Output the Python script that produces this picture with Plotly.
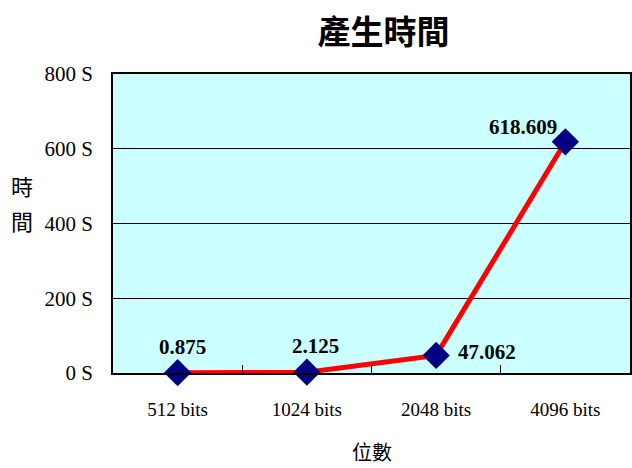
import plotly.graph_objects as go

categories = ["512 bits", "1024 bits", "2048 bits", "4096 bits"]
values = [0.875, 2.125, 47.062, 618.609]
labels = ["0.875", "2.125", "47.062", "618.609"]
y_ticks = [0, 200, 400, 600, 800]
y_tick_text = ["0 S", "200 S", "400 S", "600 S", "800 S"]

# label offsets in pixels relative to each point (style only)
label_shift = [(5, 26), (9, 26), (51, 3), (-42, 15)]

serif = "Liberation Serif"
cjk = "Noto Sans CJK TC"

fig = go.Figure()
fig.add_trace(go.Scatter(
    x=categories, y=values, mode="lines+markers",
    line=dict(color="#FF0000", width=5),
    marker=dict(symbol="diamond", size=21, color="#000080"),
    cliponaxis=False, showlegend=False,
))

anns = []
for c, v, t, (dx, dy) in zip(categories, values, labels, label_shift):
    anns.append(dict(x=c, y=v, text="<b>%s</b>" % t, showarrow=False,
                     xshift=dx, yshift=dy, xanchor="center", yanchor="middle",
                     font=dict(family=serif, size=21, color="black")))

pw, ph = 632 - 113, 468 - 74 - 95
anns.append(dict(text="時", x=(22 - 113) / pw, y=(373 - 185) / ph, xref="paper", yref="paper",
                 showarrow=False, xanchor="center", yanchor="middle",
                 font=dict(family=cjk, size=22, color="black")))
anns.append(dict(text="間", x=(22 - 113) / pw, y=(373 - 220) / ph, xref="paper", yref="paper",
                 showarrow=False, xanchor="center", yanchor="middle",
                 font=dict(family=cjk, size=22, color="black")))
anns.append(dict(text="位數", x=(373 - 113) / pw, y=(373 - 451) / ph, xref="paper", yref="paper",
                 showarrow=False, xanchor="center", yanchor="middle",
                 font=dict(family=cjk, size=20, color="black")))

fig.update_layout(
    width=632, height=468,
    margin=dict(l=113, r=0, t=74, b=95),
    paper_bgcolor="white", plot_bgcolor="#CCFFFF",
    title=dict(text="<b>產生時間</b>", x=0.607, xanchor="center", y=0.93, yanchor="middle",
               font=dict(family=cjk, size=33, color="black")),
    xaxis=dict(type="category", range=[-0.5, 3.5], showgrid=False,
               showline=True, linecolor="black", linewidth=1.5, mirror=True,
               ticks="inside", tickson="boundaries", ticklen=8, tickcolor="black",
               ticklabelstandoff=18,
               tickfont=dict(family=serif, size=19, color="black")),
    yaxis=dict(range=[0, 800], tickvals=y_ticks, ticktext=y_tick_text,
               showgrid=True, gridcolor="black", gridwidth=1,
               showline=True, linecolor="black", linewidth=1.5, mirror=True,
               ticks="", ticklabelstandoff=14,
               tickfont=dict(family=serif, size=21, color="black"), zeroline=False),
    annotations=anns,
)

fig.write_html("out.html")
